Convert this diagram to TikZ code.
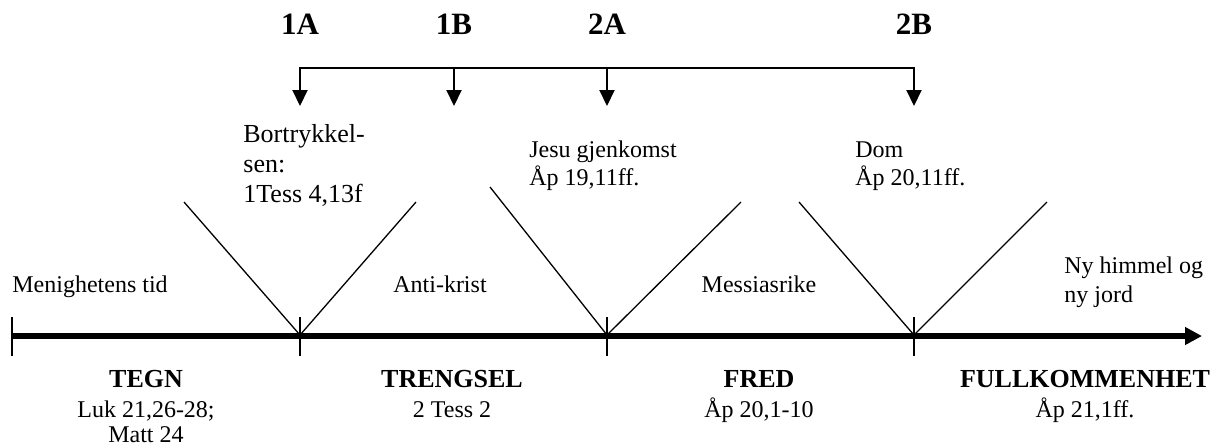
\documentclass[tikz,border=0pt]{standalone}
\usepackage{fontspec}
\setmainfont{Liberation Serif}
\usetikzlibrary{arrows.meta}

\tikzset{
  period/.style={font=\fontsize{13}{15}\selectfont\bfseries, anchor=base, inner sep=0pt},
  eventlabel/.style={font=\fontsize{15.5}{18}\selectfont\bfseries, anchor=base, inner sep=0pt},
  event/.style={font=\fontsize{13}{15}\selectfont, anchor=base west, align=left, inner sep=0pt},
  era/.style={font=\fontsize{12}{14.3}\selectfont, inner sep=0pt},
  ref/.style={font=\fontsize{12}{12.5}\selectfont, anchor=base, align=center, inner sep=0pt},
  drop/.style={line width=1pt},
  vline/.style={line width=0.65pt},
  tickline/.style={line width=0.75pt},
}

\begin{document}
\begin{tikzpicture}[x=0.5pt, y=-0.5pt]
\useasboundingbox (0,0) rectangle (1223,447);

% the four events
\node[eventlabel] (A1) at (300,34) {1A};
\node[eventlabel] (B1) at (454,34) {1B};
\node[eventlabel] (A2) at (607,34) {2A};
\node[eventlabel] (B2) at (914,34) {2B};

\coordinate (P1) at (300,68);
\coordinate (P2) at (454,68);
\coordinate (P3) at (607,68);
\coordinate (P4) at (914,68);
\coordinate (Q1) at (300,106);
\coordinate (Q2) at (454,106);
\coordinate (Q3) at (607,106);
\coordinate (Q4) at (914,106);
\draw [drop, {Triangle[length=8pt,width=7.5pt]}-{Triangle[length=8pt,width=7.5pt]}] (Q1) -- (P1) -- (P4) -- (Q4);
\draw [drop, -{Triangle[length=8pt,width=7.5pt]}] (P2) -- (Q2);
\draw [drop, -{Triangle[length=8pt,width=7.5pt]}] (P3) -- (Q3);

% base of a node with several lines = its last line
\node[event] (bort) at (243,202) {Bortrykkel-\\sen:\\1Tess 4,13f};
\node[event, font=\fontsize{12}{14}\selectfont] (jesu) at (529,185) {Jesu gjenkomst\\Åp 19,11ff.};
\node[event, font=\fontsize{12}{14}\selectfont] (dom) at (855,185) {Dom\\Åp 20,11ff.};

% the V shapes
\coordinate (M0) at (12,336);
\coordinate (M1) at (300,335);
\coordinate (M2) at (607,335);
\coordinate (M3) at (914,335);
\draw [vline] (184,202) -- (M1) -- (416,202);
\draw [vline] (490,187) -- (M2) -- (741,202);
\draw [vline] (799,202) -- (M3) -- (1047,202);

% time line
\coordinate (E) at (1202,336);
\draw [line width=3pt, -{Triangle[length=8.5pt,width=8.5pt]}] (M0) -- (E);
\draw [tickline] (M0) ++(0,-19) -- ++(0,39);
\draw [tickline] (M1) ++(0,-18) -- ++(0,39);
\draw [tickline] (M2) ++(0,-18) -- ++(0,39);
\draw [tickline] (M3) ++(0,-18) -- ++(0,39);

\node[era, anchor=base west] (menig) at (12,292) {Menighetens tid};
\node[era, anchor=base] (anti) at (440,292) {Anti-krist};
\node[era, anchor=base] (messias) at (759,292) {Messiasrike};
\node[era, anchor=base west, align=left] (nyhim) at (1064,302) {Ny himmel og\\ny jord};

% periods below the line
\node[period] (tegn) at (146,387) {TEGN};
\node[ref] (tegnref) at (146,442) {Luk 21,26-28;\\Matt 24};
\node[period] (treng) at (452,387) {TRENGSEL};
\node[ref] (trengref) at (452,417) {2 Tess 2};
\node[period] (fred) at (759,387) {FRED};
\node[ref] (fredref) at (759,417) {Åp 20,1-10};
\node[period] (full) at (1085,387) {FULLKOMMENHET};
\node[ref] (fullref) at (1085,417) {Åp 21,1ff.};
\end{tikzpicture}
\end{document}
